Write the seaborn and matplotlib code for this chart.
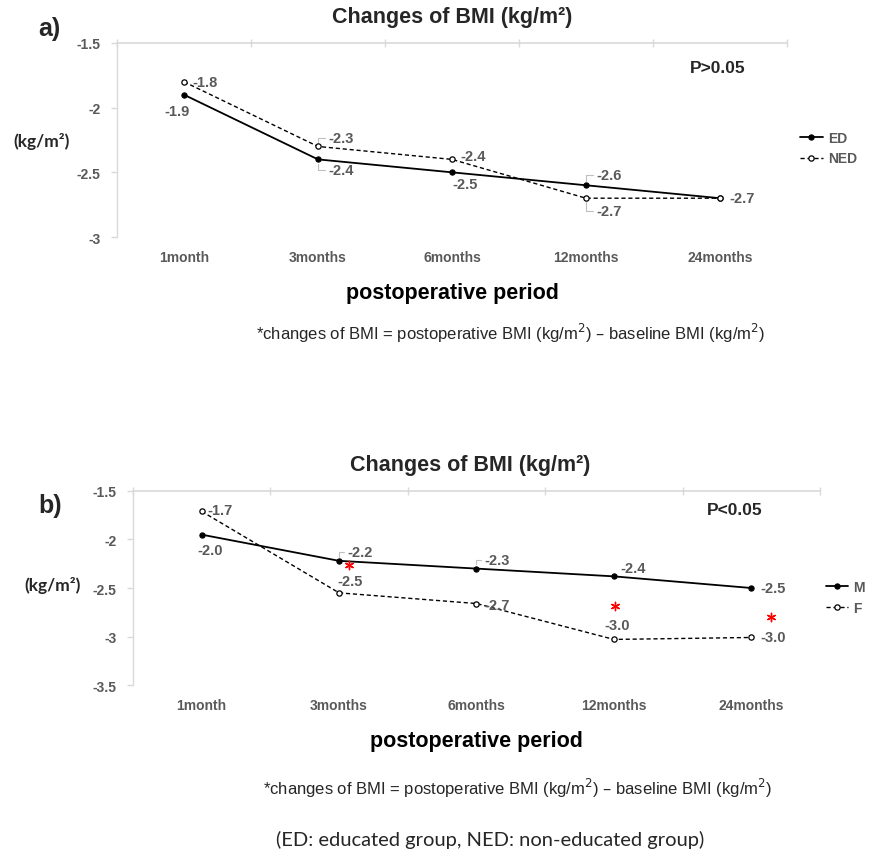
import matplotlib
matplotlib.use("Agg")
import matplotlib.pyplot as plt
from matplotlib.ticker import FormatStrFormatter, FixedLocator
import numpy as np
import pandas as pd
import seaborn as sns

periods = ["1month", "3months", "6months", "12months", "24months"]

# a) education groups
ed_vals = [-1.9, -2.4, -2.5, -2.6, -2.7]
ned_vals = [-1.8, -2.3, -2.4, -2.7, -2.7]
ed_labels = ["-1.9", "-2.4", "-2.5", "-2.6", "-2.7"]
ned_labels = ["-1.8", "-2.3", "-2.4", "-2.7", None]

# b) sex groups
male_vals = [-1.95, -2.22, -2.30, -2.38, -2.50]
female_vals = [-1.71, -2.55, -2.66, -3.03, -3.01]
male_labels = ["-2.0", "-2.2", "-2.3", "-2.4", "-2.5"]
female_labels = ["-1.7", "-2.5", "-2.7", "-3.0", "-3.0"]
star_x = [1.07, 3.01, 4.14]
star_y = [-2.26, -2.69, -2.80]

GREY = "#595959"
LIGHT = "#d9d9d9"

sns.set_style("white")
plt.rcParams["font.family"] = ["Liberation Sans", "DejaVu Sans"]

fig = plt.figure(figsize=(8.69, 8.54), dpi=100)


def series_frame(vals):
    return pd.DataFrame({"period": periods, "bmi": vals})


def style_axes(ax, ylim, yticks):
    ax.set_xlim(-0.5, 4.5)
    ax.set_ylim(*ylim)
    ax.set_yticks(yticks)
    ax.yaxis.set_major_formatter(FormatStrFormatter("%g"))
    for s in ["right", "bottom"]:
        ax.spines[s].set_visible(False)
    ax.spines["left"].set_color(LIGHT)
    ax.spines["top"].set_color(LIGHT)
    ax.spines["top"].set_linewidth(1.2)
    ax.spines["left"].set_linewidth(1.0)
    ax.xaxis.set_minor_locator(FixedLocator(np.arange(-0.5, 5, 1.0)))
    ax.tick_params(axis="x", which="major", bottom=True, top=False, length=0, pad=9)
    ax.tick_params(axis="x", which="minor", bottom=False, top=True, length=6,
                   direction="inout", color=LIGHT, width=1)
    ax.tick_params(axis="y", left=True, length=4, color=LIGHT, width=1, pad=8)
    for lab in ax.get_xticklabels() + ax.get_yticklabels():
        lab.set_color(GREY)
        lab.set_fontweight("bold")
        lab.set_fontsize(10)
    ax.set_xlabel("postoperative period", fontsize=15.5, fontweight="bold",
                  color="black", labelpad=13)
    ax.set_ylabel("")


def draw_labels(ax, vals, labels, offsets):
    for i, (v, t) in enumerate(zip(vals, labels)):
        if t is None:
            continue
        dx, dy, ha, lead = offsets[i]
        kw = {}
        if lead:
            kw["arrowprops"] = dict(arrowstyle="-", color="#bfbfbf", lw=0.8,
                                    shrinkA=0, shrinkB=3, relpos=(0, 0.5),
                                    connectionstyle="angle,angleA=0,angleB=90,rad=0")
        ax.annotate(t, xy=(i, v), xytext=(dx, dy), textcoords="offset pixels",
                    ha=ha, va="center", fontsize=10.5, fontweight="bold",
                    color=GREY, **kw)


def draw_pair(ax, solid, dashed, names):
    sns.lineplot(data=series_frame(solid), x="period", y="bmi", ax=ax,
                 color="black", lw=1.3, marker="o", markersize=3.8,
                 markerfacecolor="black", markeredgecolor="black",
                 label=names[0], sort=False)
    sns.lineplot(data=series_frame(dashed), x="period", y="bmi", ax=ax,
                 color="black", lw=1.0, linestyle=(0, (3, 2)), marker="o",
                 markersize=3.8, markerfacecolor="white", markeredgecolor="black",
                 markeredgewidth=0.9, label=names[1], sort=False)


def style_legend(ax, anchor):
    leg = ax.legend(loc="upper left", bbox_to_anchor=anchor,
                    bbox_transform=fig.transFigure, frameon=False, fontsize=10,
                    handlelength=1.6, handletextpad=0.4, labelspacing=0.5,
                    borderpad=0, borderaxespad=0)
    for t in leg.get_texts():
        t.set_color(GREY)
        t.set_fontweight("bold")


# ---------- a) ----------
ax1 = fig.add_axes([0.1346, 0.7213, 0.7710, 0.2272])
draw_pair(ax1, ed_vals, ned_vals, ["ED", "NED"])
style_axes(ax1, (-3.0, -1.5), [-3.0, -2.5, -2.0, -1.5])
draw_labels(ax1, ed_vals, ed_labels,
            [(-7, -16, "center", False), (10, -11, "left", True),
             (0, -12, "left", False), (10, 10, "left", True), (9, 0, "left", False)])
draw_labels(ax1, ned_vals, ned_labels,
            [(8, 0, "left", False), (10, 8, "left", True), (8, 3, "left", False),
             (10, -13, "left", True), (9, 0, "left", False)])
style_legend(ax1, (0.921, 0.8460))

fig.text(0.52, 0.979, "Changes of BMI (kg/m²)", ha="center", va="center",
         fontsize=15.5, fontweight="bold")
fig.text(0.044, 0.966, "a)", ha="left", va="center", fontsize=18, fontweight="bold")
fig.text(0.015, 0.834, "(kg/m²)", ha="left", va="center", fontsize=12.5,
         fontweight="bold", family=["Lato", "DejaVu Sans"])
fig.text(0.794, 0.920, "P>0.05", ha="left", va="center", fontsize=12.5,
         fontweight="bold")
fig.text(0.587, 0.610,
         "*changes of BMI = postoperative BMI (kg/m$^{2}$) – baseline BMI (kg/m$^{2}$)",
         ha="center", va="center", fontsize=12)

# ---------- b) ----------
ax2 = fig.add_axes([0.1530, 0.1967, 0.7906, 0.2272])
draw_pair(ax2, male_vals, female_vals, ["M", "F"])
style_axes(ax2, (-3.5, -1.5), [-3.5, -3.0, -2.5, -2.0, -1.5])
draw_labels(ax2, male_vals, male_labels,
            [(-4, -15, "left", False), (8, 9, "left", True), (8, 9, "left", True),
             (6, 8, "left", False), (9, 0, "left", False)])
draw_labels(ax2, female_vals, female_labels,
            [(6, 1, "left", False), (-2, 12, "left", False), (8, -1, "left", False),
             (-10, 14, "left", False), (9, 0, "left", False)])
# significance asterisks
ax2.scatter(star_x, star_y, marker=(6, 2, 0), s=36, color="red", linewidths=1.0,
            zorder=5)
style_legend(ax2, (0.950, 0.3200))

fig.text(0.541, 0.455, "Changes of BMI (kg/m²)", ha="center", va="center",
         fontsize=15.5, fontweight="bold")
fig.text(0.044, 0.408, "b)", ha="left", va="center", fontsize=18, fontweight="bold")
fig.text(0.028, 0.314, "(kg/m²)", ha="left", va="center", fontsize=12.5,
         fontweight="bold", family=["Lato", "DejaVu Sans"])
fig.text(0.813, 0.402, "P<0.05", ha="left", va="center", fontsize=12.5,
         fontweight="bold")
fig.text(0.596, 0.077,
         "*changes of BMI = postoperative BMI (kg/m$^{2}$) – baseline BMI (kg/m$^{2}$)",
         ha="center", va="center", fontsize=12)
fig.text(0.564, 0.016, "(ED: educated group, NED: non-educated group)",
         ha="center", va="center", fontsize=14.5, family=["Lato", "DejaVu Sans"])

fig.savefig("out.png", dpi=100)
